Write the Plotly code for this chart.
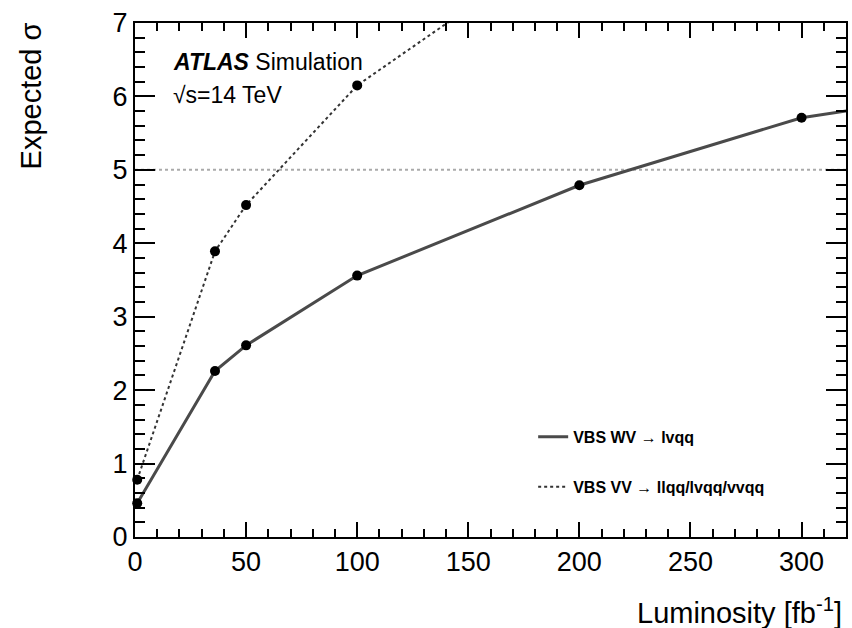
import plotly.graph_objects as go

# Data
lumi = [1, 36, 50, 100, 200, 300, 3000]
sig_wv = [0.46, 2.26, 2.61, 3.56, 4.79, 5.71, 18.0]
sig_vv = [0.78, 3.89, 4.52, 6.15, 8.25, 9.85, 31.0]
n_marked_wv = 6   # points drawn with markers
n_marked_vv = 4
name_wv = "VBS WV → lvqq"
name_vv = "VBS VV → llqq/lvqq/vvqq"

FONT = "Liberation Sans, Arial, Helvetica, sans-serif"

fig = go.Figure()

# reference line at 5 sigma
fig.add_hline(y=5, line=dict(color="#aaaaaa", width=2, dash="dot"), layer="below")

fig.add_trace(go.Scatter(x=lumi, y=sig_wv, mode="lines", name=name_wv,
                         line=dict(color="#4a4a4a", width=3),
                         legendgroup="a"))
fig.add_trace(go.Scatter(x=lumi, y=sig_vv, mode="lines", name=name_vv,
                         line=dict(color="#333333", width=2, dash="dot"),
                         legendgroup="b"))
fig.add_trace(go.Scatter(x=lumi[:n_marked_wv], y=sig_wv[:n_marked_wv], mode="markers",
                         marker=dict(color="black", size=10), showlegend=False,
                         cliponaxis=False))
fig.add_trace(go.Scatter(x=lumi[:n_marked_vv], y=sig_vv[:n_marked_vv], mode="markers",
                         marker=dict(color="black", size=10), showlegend=False,
                         cliponaxis=False))

axis_common = dict(showgrid=False, zeroline=False, showline=True, linecolor="black",
                   linewidth=2, mirror="ticks", ticks="inside", tickcolor="black",
                   tickwidth=2, tickfont=dict(family=FONT, size=27, color="black"))

fig.update_xaxes(range=[0, 320], dtick=50, tick0=0, ticklen=15,
                 minor=dict(dtick=10, ticklen=8, ticks="inside", tickcolor="black", tickwidth=2),
                 **axis_common)
fig.update_yaxes(range=[0, 7], dtick=1, tick0=0, ticklen=20,
                 minor=dict(dtick=0.2, ticklen=10, ticks="inside", tickcolor="black", tickwidth=2),
                 **axis_common)

fig.add_annotation(xref="paper", yref="paper", x=0.05, y=0.924, xanchor="left", yanchor="middle",
                   text="<b><i>ATLAS</i></b> Simulation", showarrow=False,
                   font=dict(family=FONT, size=23, color="black"))
fig.add_annotation(xref="paper", yref="paper", x=0.05, y=0.86, xanchor="left", yanchor="middle",
                   text="√s=14 TeV", showarrow=False,
                   font=dict(family=FONT, size=23, color="black"))

# axis titles
fig.add_annotation(xref="paper", yref="paper", x=0.997, y=-0.143, xanchor="right", yanchor="middle",
                   text="Luminosity [fb<sup>-1</sup>]", showarrow=False,
                   font=dict(family=FONT, size=29, color="black"))
fig.add_annotation(xref="paper", yref="paper", x=-0.147, y=1.005, xanchor="center", yanchor="top",
                   text="Expected σ", textangle=-90, showarrow=False,
                   font=dict(family=FONT, size=29, color="black"))

fig.update_layout(
    width=852, height=628,
    margin=dict(l=135, r=4, t=23, b=91),
    paper_bgcolor="white", plot_bgcolor="white",
    showlegend=True,
    legend=dict(x=0.56, y=0.146, xanchor="left", yanchor="middle",
                bgcolor="rgba(0,0,0,0)", tracegroupgap=26, itemwidth=30,
                font=dict(family=FONT, size=16, color="black", weight="bold")),
)

fig.write_html("out.html")
